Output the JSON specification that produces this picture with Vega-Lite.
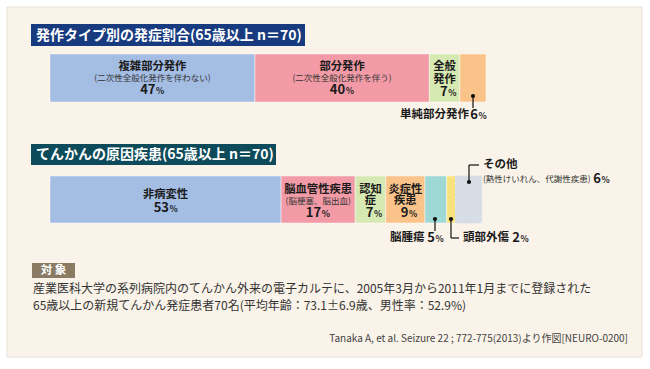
{
  "$schema": "https://vega.github.io/schema/vega-lite/v6.json",
  "width": 650,
  "height": 369,
  "autosize": {"type": "fit", "contains": "padding"},
  "padding": 0,
  "background": "#ffffff",
  "config": {"view": {"stroke": null}, "font": "Noto Sans CJK JP", "text": {"font": "Noto Sans CJK JP", "baseline": "middle"}},
  "datasets": {
    "panel": [{"x0": -9.862, "x1": 135.78, "y0": 7, "y1": 357}],
    "boxes": [
      {"name": "title1", "x0": -4.358, "x1": 58.486, "y0": 24, "y1": 46},
      {"name": "title2", "x0": -4.358, "x1": 51.835, "y0": 144, "y1": 165},
      {"name": "tag", "x0": -4.128, "x1": 5.734, "y0": 263, "y1": 278}
    ],
    "segs": [
      {"chart": "A", "seg": "複雑部分発作", "pct": 47, "ord": 1, "y0": 54, "y1": 102},
      {"chart": "A", "seg": "部分発作", "pct": 40, "ord": 2, "y0": 54, "y1": 102},
      {"chart": "A", "seg": "全般発作", "pct": 7, "ord": 3, "y0": 54, "y1": 102},
      {"chart": "A", "seg": "単純部分発作", "pct": 6, "ord": 4, "y0": 54, "y1": 102},
      {"chart": "B", "seg": "非病変性", "pct": 53, "ord": 1, "y0": 176, "y1": 223},
      {"chart": "B", "seg": "脳血管性疾患", "pct": 17, "ord": 2, "y0": 176, "y1": 223},
      {"chart": "B", "seg": "認知症", "pct": 7, "ord": 3, "y0": 176, "y1": 223},
      {"chart": "B", "seg": "炎症性疾患", "pct": 9, "ord": 4, "y0": 176, "y1": 223},
      {"chart": "B", "seg": "脳腫瘍", "pct": 5, "ord": 5, "y0": 176, "y1": 223},
      {"chart": "B", "seg": "頭部外傷", "pct": 2, "ord": 6, "y0": 176, "y1": 223},
      {"chart": "B", "seg": "その他", "pct": 6, "ord": 7, "y0": 176, "y1": 223}
    ],
    "lines": [
      {"x": 97.02, "y": 96, "x2": 97.02, "y2": 108},
      {"x": 88.30, "y": 219, "x2": 88.30, "y2": 231},
      {"x": 91.97, "y": 219, "x2": 91.97, "y2": 238},
      {"x": 91.97, "y": 238, "x2": 93.81, "y2": 238},
      {"x": 96.10, "y": 182, "x2": 96.10, "y2": 165},
      {"x": 96.10, "y": 165, "x2": 98.39, "y2": 165}
    ],
    "dots": [
      {"x": 97.02, "y": 96},
      {"x": 88.30, "y": 219},
      {"x": 91.97, "y": 219},
      {"x": 96.10, "y": 182}
    ],
    "labels": [
      {"role": "title", "text": "発作タイプ別の発症割合(65歳以上 n＝70)", "x": -3.211, "y": 35.5},
      {"role": "title", "text": "てんかんの原因疾患(65歳以上 n＝70)", "x": -3.211, "y": 155},
      {"role": "tag", "text": "対 象", "x": 0.80, "y": 270.5},
      {"role": "seg", "text": "複雑部分発作", "x": 23.5, "y": 67},
      {"role": "sub", "text": "(二次性全般化発作を伴わない)", "x": 23.5, "y": 78},
      {"role": "num", "text": "47", "x": 24.2, "y": 89.5},
      {"role": "seg", "text": "部分発作", "x": 67, "y": 67},
      {"role": "sub", "text": "(二次性全般化発作を伴う)", "x": 67, "y": 78},
      {"role": "num", "text": "40", "x": 67.7, "y": 89.5},
      {"role": "seg", "text": "全般", "x": 90.5, "y": 67},
      {"role": "seg", "text": "発作", "x": 90.5, "y": 79.5},
      {"role": "num", "text": "7", "x": 91.2, "y": 92},
      {"role": "callout", "text": "単純部分発作", "x": 80.28, "y": 115},
      {"role": "num", "text": "6", "x": 98.17, "y": 115},
      {"role": "seg", "text": "非病変性", "x": 26.5, "y": 195},
      {"role": "num", "text": "53", "x": 27.3, "y": 207.5},
      {"role": "seg", "text": "脳血管性疾患", "x": 61.5, "y": 189.5},
      {"role": "sub", "text": "(脳梗塞、脳出血)", "x": 61.5, "y": 201},
      {"role": "num", "text": "17", "x": 62.2, "y": 212.5},
      {"role": "seg", "text": "認知", "x": 73.5, "y": 189.5},
      {"role": "seg", "text": "症", "x": 73.5, "y": 201},
      {"role": "num", "text": "7", "x": 74.2, "y": 213},
      {"role": "seg", "text": "炎症性", "x": 81.5, "y": 189.5},
      {"role": "seg", "text": "疾患", "x": 81.5, "y": 201},
      {"role": "num", "text": "9", "x": 82.2, "y": 213},
      {"role": "callout", "text": "脳腫瘍", "x": 77.98, "y": 238},
      {"role": "num", "text": "5", "x": 88.3, "y": 238},
      {"role": "callout", "text": "頭部外傷", "x": 94.72, "y": 238},
      {"role": "num", "text": "2", "x": 107.8, "y": 238},
      {"role": "callout", "text": "その他", "x": 99.31, "y": 165},
      {"role": "subleft", "text": "(熱性けいれん、代謝性疾患)", "x": 99.31, "y": 179},
      {"role": "num", "text": "6", "x": 126.38, "y": 179},
      {"role": "foot", "text": "産業医科大学の系列病院内のてんかん外来の電子カルテに、2005年3月から2011年1月までに登録された", "x": -3.899, "y": 289},
      {"role": "foot", "text": "65歳以上の新規てんかん発症患者70名(平均年齢：73.1±6.9歳、男性率：52.9%)", "x": -3.899, "y": 306},
      {"role": "cite", "text": "Tanaka A, et al. Seizure 22 ; 772-775(2013)より作図[NEURO-0200]", "x": 132.57, "y": 339}
    ]
  },
  "layer": [
    {
      "data": {"name": "panel"},
      "mark": {"type": "rect", "fill": "#d4d4d4", "xOffset": 2, "yOffset": 2},
      "encoding": {
        "x": {"field": "x0", "type": "quantitative", "scale": {"domain": [-11.468, 137.615], "nice": false, "zero": false}, "axis": null},
        "x2": {"field": "x1"},
        "y": {"field": "y0", "type": "quantitative", "scale": {"domain": [0, 369], "reverse": true, "nice": false, "zero": false}, "axis": null},
        "y2": {"field": "y1"}
      }
    },
    {
      "data": {"name": "panel"},
      "mark": {"type": "rect", "fill": "#faf3e9", "stroke": "#e4dfd8", "strokeWidth": 1},
      "encoding": {
        "x": {"field": "x0", "type": "quantitative", "axis": null},
        "x2": {"field": "x1"},
        "y": {"field": "y0", "type": "quantitative", "axis": null},
        "y2": {"field": "y1"}
      }
    },
    {
      "data": {"name": "boxes"},
      "mark": {"type": "rect"},
      "encoding": {
        "x": {"field": "x0", "type": "quantitative", "axis": null},
        "x2": {"field": "x1"},
        "y": {"field": "y0", "type": "quantitative", "axis": null},
        "y2": {"field": "y1"},
        "fill": {"field": "name", "type": "nominal", "scale": {"domain": ["title1", "title2", "tag"], "range": ["#183a7e", "#0d4a5a", "#8b7b65"]}, "legend": null}
      }
    },
    {
      "data": {"name": "segs"},
      "transform": [{"stack": "pct", "groupby": ["chart"], "sort": [{"field": "ord", "order": "ascending"}], "as": ["s0", "s1"]}],
      "mark": {"type": "rect", "stroke": "#ffffff", "strokeOpacity": 0.45, "strokeWidth": 1},
      "encoding": {
        "x": {"field": "s0", "type": "quantitative", "axis": null},
        "x2": {"field": "s1"},
        "y": {"field": "y0", "type": "quantitative", "axis": null},
        "y2": {"field": "y1"},
        "color": {"field": "seg", "type": "nominal", "scale": {"domain": ["複雑部分発作", "部分発作", "全般発作", "単純部分発作", "非病変性", "脳血管性疾患", "認知症", "炎症性疾患", "脳腫瘍", "頭部外傷", "その他"], "range": ["#a4bde3", "#f29ba6", "#d7e9b2", "#f9c38a", "#a4bde3", "#f29ba6", "#d7e9b2", "#f9c38a", "#9fd9d5", "#f8e27e", "#d6dde5"]}, "legend": null}
      }
    },
    {
      "data": {"name": "segs"},
      "transform": [
        {"stack": "pct", "groupby": ["chart"], "sort": [{"field": "ord", "order": "ascending"}], "as": ["s0", "s1"]},
        {"filter": "datum.seg === 'その他'"}
      ],
      "mark": {"type": "rect", "fill": null, "stroke": "#b9c3cf", "strokeDash": [1, 1.5], "strokeWidth": 1},
      "encoding": {
        "x": {"field": "s0", "type": "quantitative", "axis": null},
        "x2": {"field": "s1"},
        "y": {"field": "y0", "type": "quantitative", "axis": null},
        "y2": {"field": "y1"}
      }
    },
    {
      "data": {"name": "lines"},
      "mark": {"type": "rule", "color": "#111111", "strokeWidth": 1.2},
      "encoding": {
        "x": {"field": "x", "type": "quantitative", "axis": null},
        "x2": {"field": "x2"},
        "y": {"field": "y", "type": "quantitative", "axis": null},
        "y2": {"field": "y2"}
      }
    },
    {
      "data": {"name": "dots"},
      "mark": {"type": "point", "filled": true, "color": "#111111", "size": 18, "opacity": 1},
      "encoding": {
        "x": {"field": "x", "type": "quantitative", "axis": null},
        "y": {"field": "y", "type": "quantitative", "axis": null}
      }
    },
    {
      "data": {"name": "labels"},
      "transform": [{"filter": "datum.role === 'title'"}],
      "mark": {"type": "text", "align": "left", "fontSize": 14, "fontWeight": "bold", "color": "#ffffff"},
      "encoding": {"x": {"field": "x", "type": "quantitative", "axis": null}, "y": {"field": "y", "type": "quantitative", "axis": null}, "text": {"field": "text"}}
    },
    {
      "data": {"name": "labels"},
      "transform": [{"filter": "datum.role === 'tag'"}],
      "mark": {"type": "text", "align": "center", "fontSize": 11.5, "fontWeight": "bold", "color": "#ffffff"},
      "encoding": {"x": {"field": "x", "type": "quantitative", "axis": null}, "y": {"field": "y", "type": "quantitative", "axis": null}, "text": {"field": "text"}}
    },
    {
      "data": {"name": "labels"},
      "transform": [{"filter": "datum.role === 'seg'"}],
      "mark": {"type": "text", "align": "center", "fontSize": 11.3, "fontWeight": "bold", "color": "#1a1a1a"},
      "encoding": {"x": {"field": "x", "type": "quantitative", "axis": null}, "y": {"field": "y", "type": "quantitative", "axis": null}, "text": {"field": "text"}}
    },
    {
      "data": {"name": "labels"},
      "transform": [{"filter": "datum.role === 'sub'"}],
      "mark": {"type": "text", "align": "center", "fontSize": 8.5, "color": "#333333"},
      "encoding": {"x": {"field": "x", "type": "quantitative", "axis": null}, "y": {"field": "y", "type": "quantitative", "axis": null}, "text": {"field": "text"}}
    },
    {
      "data": {"name": "labels"},
      "transform": [{"filter": "datum.role === 'subleft'"}],
      "mark": {"type": "text", "align": "left", "fontSize": 8.5, "color": "#333333"},
      "encoding": {"x": {"field": "x", "type": "quantitative", "axis": null}, "y": {"field": "y", "type": "quantitative", "axis": null}, "text": {"field": "text"}}
    },
    {
      "data": {"name": "labels"},
      "transform": [{"filter": "datum.role === 'num'"}],
      "mark": {"type": "text", "align": "right", "fontSize": 13, "fontWeight": "bold", "color": "#1a1a1a"},
      "encoding": {"x": {"field": "x", "type": "quantitative", "axis": null}, "y": {"field": "y", "type": "quantitative", "axis": null}, "text": {"field": "text"}}
    },
    {
      "data": {"name": "labels"},
      "transform": [{"filter": "datum.role === 'num'"}],
      "mark": {"type": "text", "align": "left", "fontSize": 8.5, "fontWeight": "bold", "color": "#1a1a1a", "dx": 0.5, "dy": 1},
      "encoding": {"x": {"field": "x", "type": "quantitative", "axis": null}, "y": {"field": "y", "type": "quantitative", "axis": null}, "text": {"value": "%"}}
    },
    {
      "data": {"name": "labels"},
      "transform": [{"filter": "datum.role === 'callout'"}],
      "mark": {"type": "text", "align": "left", "fontSize": 11.5, "fontWeight": "bold", "color": "#1a1a1a"},
      "encoding": {"x": {"field": "x", "type": "quantitative", "axis": null}, "y": {"field": "y", "type": "quantitative", "axis": null}, "text": {"field": "text"}}
    },
    {
      "data": {"name": "labels"},
      "transform": [{"filter": "datum.role === 'foot'"}],
      "mark": {"type": "text", "align": "left", "fontSize": 12, "color": "#333333"},
      "encoding": {"x": {"field": "x", "type": "quantitative", "axis": null}, "y": {"field": "y", "type": "quantitative", "axis": null}, "text": {"field": "text"}}
    },
    {
      "data": {"name": "labels"},
      "transform": [{"filter": "datum.role === 'cite'"}],
      "mark": {"type": "text", "align": "right", "fontSize": 10, "color": "#444444"},
      "encoding": {"x": {"field": "x", "type": "quantitative", "axis": null}, "y": {"field": "y", "type": "quantitative", "axis": null}, "text": {"field": "text"}}
    }
  ]
}
